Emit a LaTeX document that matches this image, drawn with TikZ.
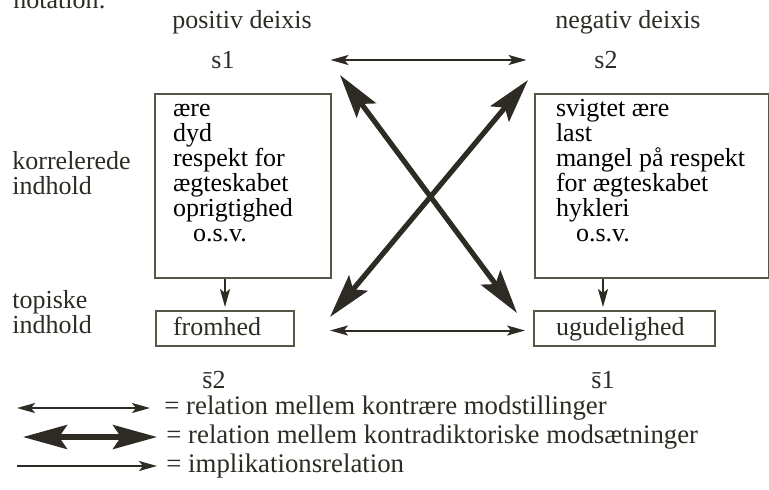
\documentclass[tikz,border=0pt]{standalone}
\usepackage{fontspec}
\setmainfont{Liberation Serif}
\usepackage{tikz}
\usepackage{xcolor}
\usetikzlibrary{positioning, arrows.meta}

\definecolor{ink}{RGB}{45,43,35}
\definecolor{ramme}{RGB}{88,86,70}
\newcommand{\indholdtekst}[3]{\parbox[t][92pt][t]{#1}{\fontsize{13}{12.5}\selectfont\leftskip=#2\rule{0pt}{11pt}#3}}

\tikzset{
  txt/.style={font=\fontsize{13}{12.5}\selectfont, inner sep=0pt, text=ink},
  legtxt/.style={txt, font=\fontsize{13.4}{12.5}\selectfont, anchor=west},
  boks/.style={draw=ramme, line width=1pt, inner sep=0pt, anchor=north west},
  kontraer/.style={draw=ink, line width=1pt, {Stealth[length=9pt,width=5pt,inset=2pt]}-{Stealth[length=9pt,width=5pt,inset=2pt]}},
  kontradik/.style={draw=ink, line width=2.6pt, {Stealth[length=22pt,width=12pt,inset=4pt]}-{Stealth[length=22pt,width=12pt,inset=4pt]}},
  impl/.style={draw=ink, line width=1pt, -{Stealth[length=9pt,width=5pt,inset=2pt]}}
}

\begin{document}
\begin{tikzpicture}[x=0.5pt,y=-0.5pt]
\useasboundingbox (0,0) rectangle (769,489);

\node[txt, anchor=base west] (notation) at (13,8) {notation:};

% overskrifter
\node[txt] (posdeix) at (242,22) {positiv deixis};
\node[txt] (negdeix) at (628,22) {negativ deixis};
\node[txt] (s1) at (223,60) {s1};
\node[txt] (s2) at (606,60) {s2};

\node[txt, anchor=west, align=left] (korrind) at (12,173) {korrelerede\\indhold};
\node[txt, anchor=west, align=left] (topind) at (12,312) {topiske\\indhold};

% kasserne
\node[boks] (korr1) at (154,93) {\indholdtekst{88pt}{9pt}{ære\\dyd\\respekt for\\ægteskabet\\oprigtighed\\\hspace*{10pt}o.s.v.}};
\node[boks] (korr2) at (534,93) {\indholdtekst{117pt}{10.5pt}{svigtet ære\\last\\mangel på respekt\\for ægteskabet\\hykleri\\\hspace*{10pt}o.s.v.}};

\node[boks, txt, inner xsep=8.5pt, text width=52pt, text height=9.5pt, text depth=3pt, minimum height=17.5pt, align=left] (fromhed) at (155,310) {fromhed};
\node[boks, txt, inner xsep=11pt, text width=68.5pt, text height=9.5pt, text depth=3pt, minimum height=17.5pt, align=left] (ugud) at (533,310) {ugudelighed};

\node[txt] (sb2) at (214,380) {s̄2};
\node[txt] (sb1) at (603,380) {s̄1};

% pile
\draw[kontraer, shorten <=47.75pt, shorten >=33.75pt] (s1) -- (s2);
\draw[kontraer, shorten <=17.5pt, shorten >=4pt] ([yshift=-1pt]fromhed.east) -- ([yshift=-1pt]ugud.east -| ugud.west);
\draw[impl, shorten >=1.5pt] (fromhed.north |- korr1.south) -- (fromhed.north);
\draw[impl, shorten >=1.5pt] ([xshift=-10.75pt]ugud.north |- korr2.south) -- ([xshift=-10.75pt]ugud.north);

\coordinate (xa) at (340,75);
\coordinate (xb) at (517,313);
\coordinate (xc) at (528,80);
\coordinate (xd) at (330,317);
\draw[kontradik] (xa) -- (xb);
\draw[kontradik] (xc) -- (xd);

% forklaring
\coordinate (l1a) at (17,408);
\coordinate (l1b) at (150,408);
\coordinate (l2a) at (23,437);
\coordinate (l2b) at (157,437);
\coordinate (l3a) at (17,466);
\coordinate (l3b) at (157,466);
\draw[kontraer] (l1a) -- (l1b);
\draw[kontradik] (l2a) -- (l2b);
\draw[impl] (l3a) -- (l3b);
\node[legtxt] (leg1) at (164,408) {= relation mellem kontrære modstillinger};
\node[legtxt] (leg2) at (166,437) {= relation mellem kontradiktoriske modsætninger};
\node[legtxt] (leg3) at (166,466) {= implikationsrelation};
\end{tikzpicture}
\end{document}
